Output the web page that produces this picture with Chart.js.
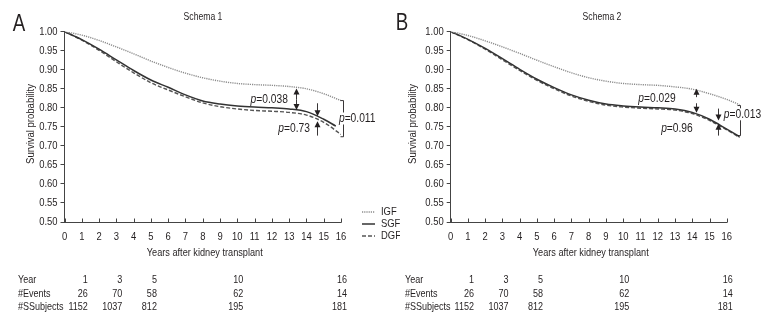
<!DOCTYPE html>
<html>
<head>
<meta charset="utf-8">
<script src="https://cdn.jsdelivr.net/npm/chart.js@4.4.1/dist/chart.umd.min.js"></script>
<style>
html, body { margin: 0; padding: 0; background: #fff; }
#wrap { position: relative; width: 780px; height: 324px; overflow: hidden; }
canvas { position: absolute; top: 0; }
#chartA { left: 0; }
#chartB { left: 390px; }
</style>
</head>
<body>
<div id="wrap">
    <canvas id="chartA" width="400" height="324"></canvas>
    <canvas id="chartB" width="390" height="324"></canvas>
</div>
<script>
'use strict';

// ---- data ----
const seriesNames = ['IGF', 'SGF', 'DGF'];

// Schema 1
const yearsA = [0, 1, 2, 3, 4, 5, 6, 7, 8, 9, 10, 11, 12, 13, 14, 15, 16];
const igfA = [1.000, 0.991, 0.977, 0.960, 0.942, 0.923, 0.906, 0.891, 0.879, 0.870, 0.864, 0.861, 0.859, 0.856, 0.850, 0.837, 0.819];
const sgfYearsA = [0, 1, 2, 3, 4, 5, 6, 7, 8, 9, 10, 11, 12, 13, 14, 15, 15.7];
const sgfA = [1.000, 0.979, 0.954, 0.926, 0.898, 0.873, 0.854, 0.834, 0.818, 0.810, 0.805, 0.802, 0.800, 0.797, 0.790, 0.770, 0.752];
const dgfA = [1.000, 0.978, 0.951, 0.921, 0.892, 0.866, 0.847, 0.829, 0.813, 0.803, 0.797, 0.793, 0.791, 0.788, 0.781, 0.762, 0.730];
const pValuesA = ['0.038', '0.73', '0.011'];

// Schema 2
const yearsB = [0, 1, 2, 3, 4, 5, 6, 7, 8, 9, 10, 11, 12, 13, 14, 15, 16, 16.75];
const igfB = [1.000, 0.990, 0.976, 0.960, 0.943, 0.925, 0.908, 0.892, 0.879, 0.870, 0.864, 0.861, 0.859, 0.855, 0.849, 0.837, 0.822, 0.808];
const sgfB = [1.000, 0.980, 0.956, 0.929, 0.901, 0.875, 0.853, 0.834, 0.820, 0.810, 0.805, 0.802, 0.800, 0.797, 0.788, 0.770, 0.744, 0.724];
const dgfB = [1.000, 0.979, 0.954, 0.926, 0.898, 0.872, 0.850, 0.831, 0.817, 0.807, 0.802, 0.799, 0.797, 0.794, 0.785, 0.767, 0.742, 0.722];
const pValuesB = ['0.029', '0.96', '0.013'];

// axis ticks
const xTicks = [0, 1, 2, 3, 4, 5, 6, 7, 8, 9, 10, 11, 12, 13, 14, 15, 16];
const yTickMin = 0.50;
const yTickMax = 1.00;
const yTickStep = 0.05;

// number at risk table (same under both panels)
const riskRowNames = ['Year', '#Events', '#SSubjects'];
const riskYears = [1, 3, 5, 10, 16];
const riskEvents = [26, 70, 58, 62, 14];
const riskSubjects = [1152, 1037, 812, 195, 181];

// ---- look ----
const FAMILY = "'Liberation Sans', Arial, sans-serif";
const SQUEEZE = 0.82;   // the figure uses a condensed face
const INK = '#231f20';
Chart.defaults.font.family = FAMILY;
Chart.defaults.font.size = 11;
Chart.defaults.color = INK;

function pts(xs, ys)
{
    return xs.map((x, i) => ({ x: x, y: ys[i] }));
}

function lineStyles()
{
    return [
        { borderColor: '#8c8c8c', borderWidth: 1.4, borderDash: [1.2, 1] },
        { borderColor: '#333333', borderWidth: 1.5, borderDash: [] },
        { borderColor: '#555555', borderWidth: 1.4, borderDash: [4, 2] }
    ];
}

// condensed text
function txt(ctx, s, x, y, align, size, opts)
{
    opts = opts || {};
    ctx.save();
    ctx.font = (opts.italic ? 'italic ' : '') + size + 'px ' + FAMILY;
    ctx.translate(x, y);
    if (opts.rotate) ctx.rotate(opts.rotate);
    ctx.scale(opts.sx || SQUEEZE, 1);
    ctx.textAlign = align;
    ctx.textBaseline = 'middle';
    ctx.fillStyle = INK;
    ctx.fillText(s, 0, 0);
    ctx.restore();
}

function txtWidth(ctx, s, size, italic)
{
    ctx.save();
    ctx.font = (italic ? 'italic ' : '') + size + 'px ' + FAMILY;
    const w = ctx.measureText(s).width * SQUEEZE;
    ctx.restore();
    return w;
}

// custom drawing: letter, title, axes text, inner x ticks, p-values, legend, risk table
const extras = {
    id: 'extras',
    afterDraw(chart, args, o)
    {
        const ctx = chart.ctx;
        const xs = chart.scales.x, ys = chart.scales.y, area = chart.chartArea;
        const px = v => xs.getPixelForValue(v);
        const py = v => ys.getPixelForValue(v);

        ctx.save();
        ctx.fillStyle = INK;
        ctx.strokeStyle = INK;

        txt(ctx, o.letter, o.letterX, o.letterY, 'center', 24, { sx: 0.78 });
        txt(ctx, o.title, o.titleX, 17, 'center', 10.5);

        // x axis: line from 0 to 16 with ticks pointing up
        const yb = Math.round(area.bottom) + 0.5;
        ctx.strokeStyle = '#444';
        ctx.lineWidth = 1;
        ctx.beginPath();
        ctx.moveTo(px(0) - 0.5, yb);
        ctx.lineTo(px(xTicks[xTicks.length - 1]) + 0.5, yb);
        xTicks.forEach(t =>
        {
            const x = Math.round(px(t)) + 0.5;
            ctx.moveTo(x, yb);
            ctx.lineTo(x, yb - 4);
        });
        ctx.stroke();

        // tick labels and axis titles
        xTicks.forEach(t => txt(ctx, String(t), px(t), area.bottom + 15, 'center', 11.5));
        ys.ticks.forEach(t => txt(ctx, t.value.toFixed(2), area.left - 7, py(t.value), 'right', 11.5));
        const xMid = (px(xTicks[0]) + px(xTicks[xTicks.length - 1])) / 2 + 2;
        txt(ctx, 'Years after kidney transplant', xMid, 253, 'center', 11.2);
        txt(ctx, 'Survival probability', o.yTitleX, 124, 'center', 11.6, { rotate: -Math.PI / 2 });

        // arrows
        ctx.strokeStyle = INK;
        ctx.fillStyle = INK;
        ctx.lineWidth = 0.9;
        o.arrows.forEach(a =>
        {
            const x = Math.round(px(a.x)) + 0.5;
            const y0 = py(a.from), y1 = py(a.to);
            const dir = Math.sign(y1 - y0);
            ctx.beginPath();
            ctx.moveTo(x, y0);
            ctx.lineTo(x, y1 - dir * 4);
            ctx.stroke();
            ctx.beginPath();
            ctx.moveTo(x, y1);
            ctx.lineTo(x - 3, y1 - dir * 6);
            ctx.lineTo(x + 3, y1 - dir * 6);
            ctx.closePath();
            ctx.fill();
        });

        // bracket
        const b = o.bracket;
        const bx = Math.round(px(b.x)) + 0.5;
        ctx.beginPath();
        ctx.moveTo(bx - 3, py(b.top));
        ctx.lineTo(bx, py(b.top));
        ctx.lineTo(bx, py(b.bottom));
        ctx.lineTo(bx - 3, py(b.bottom));
        ctx.stroke();

        // p labels
        o.labels.forEach(l =>
        {
            const size = 12.5;
            const wp = txtWidth(ctx, 'p', size, true);
            const wr = txtWidth(ctx, '=' + l.text, size, false);
            const x0 = l.align === 'right' ? px(l.x) - wp - wr : px(l.x);
            const y = py(l.y);
            if (l.bg)
            {
                ctx.fillStyle = '#fff';
                ctx.fillRect(x0 - 1, y - 6, wp + wr + 2, 12);
                ctx.fillStyle = INK;
            }
            txt(ctx, 'p', x0, y, 'left', size, { italic: true });
            txt(ctx, '=' + l.text, x0 + wp, y, 'left', size);
        });

        // legend
        if (o.legend)
        {
            chart.data.datasets.forEach((ds, i) =>
            {
                const y = o.legend.y + i * 12;
                ctx.save();
                ctx.strokeStyle = ds.borderColor;
                ctx.lineWidth = ds.borderWidth;
                ctx.setLineDash(ds.borderDash);
                ctx.beginPath();
                ctx.moveTo(o.legend.x, y);
                ctx.lineTo(o.legend.x + 13, y);
                ctx.stroke();
                ctx.restore();
                txt(ctx, ds.label, o.legend.x + 19, y, 'left', 11.5);
            });
        }

        // number at risk table
        const rows = [riskYears, riskEvents, riskSubjects];
        rows.forEach((row, r) =>
        {
            const y = o.tableY[r];
            txt(ctx, riskRowNames[r], o.tableX, y, 'left', 11);
            row.forEach((v, i) => txt(ctx, String(v), px(riskYears[i]) + 6, y, 'right', 11));
        });

        ctx.restore();
    }
};

function makePanel(id, p)
{
    const st = lineStyles();
    const sets = [
        { label: seriesNames[0], data: pts(p.years, p.igf) },
        { label: seriesNames[1], data: pts(p.sgfYears, p.sgf) },
        { label: seriesNames[2], data: pts(p.years, p.dgf) }
    ].map((d, i) => Object.assign(d, st[i], {
        pointRadius: 0,
        fill: false,
        cubicInterpolationMode: 'monotone'
    }));

    return new Chart(document.getElementById(id), {
        type: 'line',
        data: { datasets: sets },
        plugins: [extras],
        options: {
            responsive: false,
            animation: false,
            events: [],
            layout: { padding: { left: 0, top: 31.7, right: p.padRight, bottom: 60 } },
            scales: {
                x: {
                    type: 'linear',
                    min: 0,
                    max: p.xMax,
                    afterFit: s => { s.height = 42; },
                    afterBuildTicks: s => { s.ticks = xTicks.map(v => ({ value: v })); },
                    ticks: { display: false },
                    grid: { display: false, drawTicks: false },
                    border: { display: false },
                    title: { display: false }
                },
                y: {
                    min: yTickMin,
                    max: yTickMax,
                    afterFit: s => { s.width = p.yAxisWidth; },
                    ticks: { stepSize: yTickStep, display: false },
                    grid: { drawOnChartArea: false, drawTicks: true, tickLength: 4, color: '#444' },
                    border: { display: true, color: '#444', width: 1 },
                    title: { display: false }
                }
            },
            plugins: {
                legend: { display: false },
                tooltip: { enabled: false },
                extras: p.extras
            }
        }
    });
}

makePanel('chartA', {
    years: yearsA, igf: igfA, sgfYears: sgfYearsA, sgf: sgfA, dgf: dgfA,
    xMax: 16, padRight: 59, yAxisWidth: 64.5,
    extras: {
        letter: 'A', letterX: 19, letterY: 24,
        title: 'Schema 1', titleX: 203, yTitleX: 31,
        arrows: [
            { x: 13.4, from: 0.822, to: 0.851 },
            { x: 13.4, from: 0.822, to: 0.794 },
            { x: 14.6, from: 0.812, to: 0.778 },
            { x: 14.6, from: 0.727, to: 0.765 }
        ],
        bracket: { x: 16.1, top: 0.819, bottom: 0.724 },
        labels: [
            { x: 12.93, y: 0.822, text: pValuesA[0], align: 'right' },
            { x: 14.2, y: 0.746, text: pValuesA[1], align: 'right' },
            { x: 15.88, y: 0.772, text: pValuesA[2], align: 'left', bg: true }
        ],
        legend: { x: 362, y: 212 },
        tableX: 18,
        tableY: [280, 294, 307]
    }
});

makePanel('chartB', {
    years: yearsB, igf: igfB, sgfYears: yearsB, sgf: sgfB, dgf: dgfB,
    xMax: 16.75, padRight: 40.3, yAxisWidth: 60.7,
    extras: {
        letter: 'B', letterX: 12, letterY: 23,
        title: 'Schema 2', titleX: 212, yTitleX: 23,
        arrows: [
            { x: 14.2, from: 0.828, to: 0.850 },
            { x: 14.2, from: 0.812, to: 0.787 },
            { x: 15.5, from: 0.798, to: 0.767 },
            { x: 15.5, from: 0.727, to: 0.758 }
        ],
        bracket: { x: 16.76, top: 0.806, bottom: 0.727 },
        labels: [
            { x: 13.04, y: 0.825, text: pValuesB[0], align: 'right' },
            { x: 14.03, y: 0.746, text: pValuesB[1], align: 'right' },
            { x: 15.83, y: 0.783, text: pValuesB[2], align: 'left', bg: true }
        ],
        legend: null,
        tableX: 15,
        tableY: [280, 294, 307]
    }
});
</script>
</body>
</html>
